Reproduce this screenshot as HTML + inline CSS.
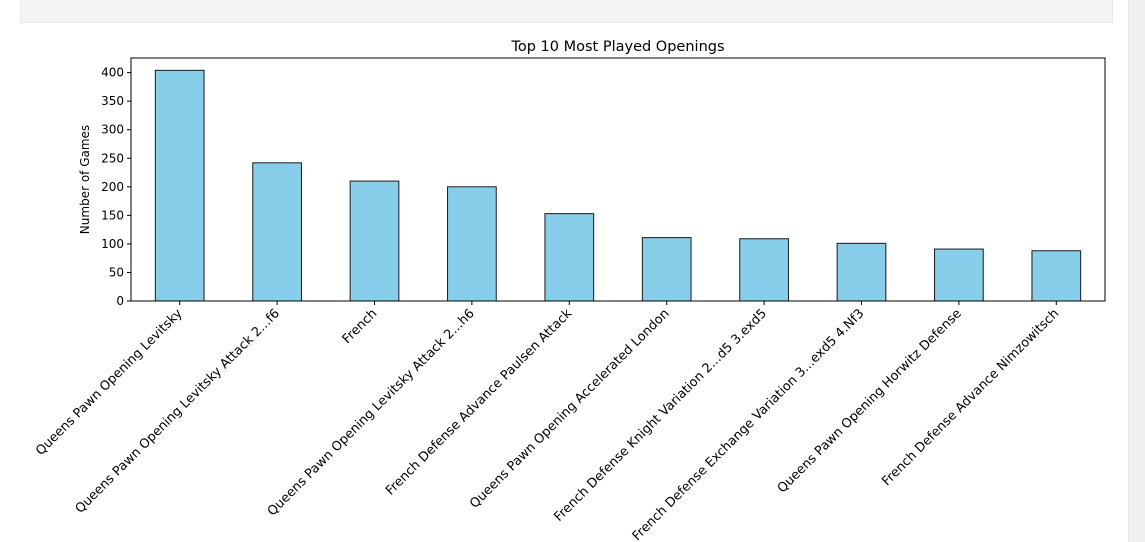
<!DOCTYPE html>
<html><head><meta charset="utf-8"><style>
body{margin:0;background:#fff;width:1145px;height:542px;overflow:hidden;position:relative;font-family:"DejaVu Sans","Liberation Sans",sans-serif}
#topbox{position:absolute;left:20px;top:0;width:1091px;height:22px;background:#f4f4f4;border-bottom:1px solid #e6e6e6;border-right:1px solid #e6e6e6;border-left:1px solid #e6e6e6}
#scroll{position:absolute;left:1128px;top:0;width:17px;height:542px;background:#f0f0f0;border-left:1px solid #e4e4e4}
svg{position:absolute;left:0;top:0}
</style></head><body>
<div id="topbox"></div>
<div id="scroll"></div>
<svg id="chart" width="1128" height="542" font-family="DejaVu Sans, Liberation Sans, sans-serif"></svg>
<script>
const categories=["Queens Pawn Opening Levitsky","Queens Pawn Opening Levitsky Attack 2...f6","French","Queens Pawn Opening Levitsky Attack 2...h6","French Defense Advance Paulsen Attack","Queens Pawn Opening Accelerated London","French Defense Knight Variation 2...d5 3.exd5","French Defense Exchange Variation 3...exd5 4.Nf3","Queens Pawn Opening Horwitz Defense","French Defense Advance Nimzowitsch"];
const values=[404,242,210,200,153,111,109,101,91,88];
const yTicks=[0,50,100,150,200,250,300,350,400];
const L=131,R=1105,T=58,B=301,yMax=425.6;
const svg=document.getElementById('chart');const NS='http://www.w3.org/2000/svg';
function y(v){return B-(v/yMax)*(B-T);}
const step=(R-L)/categories.length;
function x(i){return L+step*(i+0.5);}
function mk(t,a,txt){const e=document.createElementNS(NS,t);for(const k in a)e.setAttribute(k,a[k]);if(txt!==undefined)e.textContent=txt;svg.appendChild(e);return e;}
categories.forEach((c,i)=>{
 const b=mk('rect',{x:x(i)-step*0.25,y:y(values[i]),width:step*0.5,height:B-y(values[i]),fill:'#87ceeb',stroke:'#1a1a1a','stroke-width':1});
 
 
 mk('line',{x1:x(i),x2:x(i),y1:B,y2:B+4,stroke:'#000'});
 const t=mk('text',{x:x(i)+3,y:B+13,'font-size':12.8,'text-anchor':'end',transform:`rotate(-45 ${x(i)+3} ${B+13})`},c);
 
 
});
yTicks.forEach(v=>{
 mk('line',{x1:L-4,x2:L,y1:y(v),y2:y(v),stroke:'#000'});
 const t=mk('text',{x:L-7,y:y(v)+4,'font-size':12,'text-anchor':'end'},v);
 
 
});
const f=mk('rect',{x:L,y:T,width:R-L,height:B-T,fill:'none',stroke:'#000','stroke-width':1});


const tt=mk('text',{x:(L+R)/2,y:T-7,'font-size':14.5,'text-anchor':'middle'},'Top 10 Most Played Openings');


const yl=mk('text',{x:89,y:(T+B)/2,'font-size':12,'text-anchor':'middle',transform:`rotate(-90 89 ${(T+B)/2})`},'Number of Games');


</script>
</body></html>
